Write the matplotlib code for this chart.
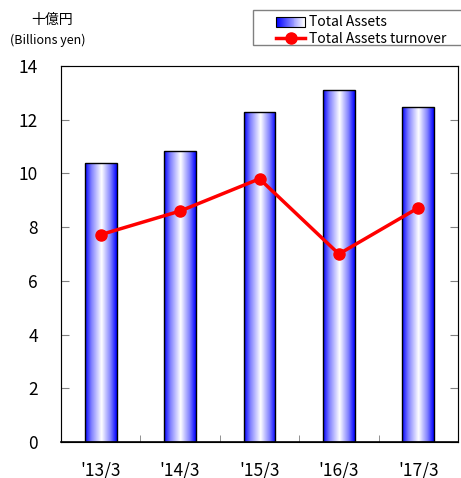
import numpy as np
import matplotlib.pyplot as plt
from matplotlib.legend_handler import HandlerBase
from matplotlib.patches import Rectangle
from matplotlib.lines import Line2D
from matplotlib.colors import LinearSegmentedColormap

plt.rcParams['font.family'] = ['Noto Sans CJK JP', 'DejaVu Sans']

# data
categories = ["'13/3", "'14/3", "'15/3", "'16/3", "'17/3"]
total_assets = [10.4, 10.85, 12.3, 13.1, 12.48]
turnover = [7.72, 8.6, 9.8, 7.0, 8.72]

GRAY = '#808080'
blue_white = LinearSegmentedColormap.from_list(
    'bw', [(0, '#0000ff'), (0.2, '#8080ff'), (0.52, '#ffffff'), (0.8, '#8080ff'), (1, '#0000ff')])
legend_cmap = LinearSegmentedColormap.from_list('bw2', ['#0000ff', '#ffffff'])


# legend box with a left-to-right gradient, drawn as thin strips
class GradientHandler(HandlerBase):
    def create_artists(self, legend, orig_handle, xdescent, ydescent,
                       width, height, fontsize, trans):
        n = 30
        arts = []
        for i in range(n):
            r = Rectangle((-xdescent + width * i / n, -ydescent), width / n + 0.3, height,
                          facecolor=legend_cmap(i / (n - 1)), edgecolor='none',
                          transform=trans)
            arts.append(r)
        arts.append(Rectangle((-xdescent, -ydescent), width, height, facecolor='none',
                              edgecolor='black', lw=0.8, transform=trans))
        return arts


W, H = 461, 478
fig = plt.figure(figsize=(W / 100, H / 100), dpi=100)
ax = fig.add_axes([61 / W, 36 / H, 397 / W, 376 / H])

x = np.arange(len(categories))
bars = ax.bar(x, total_assets, width=0.4, facecolor='none', edgecolor='black',
              linewidth=1.0, zorder=3)

grad = np.linspace(0, 1, 256).reshape(1, -1)
for b in bars:
    x0, y0 = b.get_x(), b.get_y()
    im = ax.imshow(grad, cmap=blue_white, extent=[x0, x0 + b.get_width(), y0, y0 + b.get_height()],
                   aspect='auto', zorder=2, interpolation='bilinear')
    im.set_clip_path(b)

ax.plot(x, turnover, color='#ff0000', lw=2.5, marker='o', markersize=8, zorder=4)

ax.set_xlim(-0.5, len(categories) - 0.5)
ax.set_ylim(0, 14)
ax.set_yticks(np.arange(0, 15, 2))
ax.set_xticks(x)
ax.set_xticklabels(categories, fontsize=12.5)
ax.set_xticks(np.arange(0.5, len(categories) - 1, 1), minor=True)
ax.tick_params(axis='x', which='major', length=0, pad=14)
ax.tick_params(axis='x', which='minor', direction='in', length=5, color=GRAY)
ax.tick_params(axis='y', direction='in', length=6, color=GRAY, labelsize=12.5, pad=16.5)
for s in ax.spines.values():
    s.set_color(GRAY)
ax.spines['bottom'].set_color('black')
ax.spines['bottom'].set_linewidth(1.2)

ax2 = ax.twinx()
ax2.set_ylim(0, 14)
ax2.set_yticks(np.arange(0, 15, 2))
ax2.tick_params(axis='y', direction='in', length=6, color=GRAY, labelright=False)

fig.text(52 / W, 1 - 20 / H, '十億円', fontsize=10, ha='center', va='center')
fig.text(48 / W, 1 - 40 / H, '(Billions yen)', fontsize=9, ha='center', va='center')

# legend frame runs off the right edge of the picture
fig.patches.append(Rectangle((253 / W, 1 - 45 / H), 240 / W, 35 / H, transform=fig.transFigure,
                             facecolor='white', edgecolor=GRAY, lw=1.0, zorder=5))

handles = [Rectangle((0, 0), 1, 1), Line2D([], [], color='#ff0000', lw=2.5, marker='o', markersize=8)]
leg = fig.legend(handles, ['Total Assets', 'Total Assets turnover'],
                 handler_map={Rectangle: GradientHandler()},
                 loc='upper left', bbox_to_anchor=(276 / W, 1 - 15.5 / H),
                 fontsize=10, frameon=False, borderpad=0, labelspacing=0.15,
                 handlelength=2.1, handletextpad=0.25, borderaxespad=0)
leg.set_zorder(6)

fig.savefig('out.png', dpi=100)
